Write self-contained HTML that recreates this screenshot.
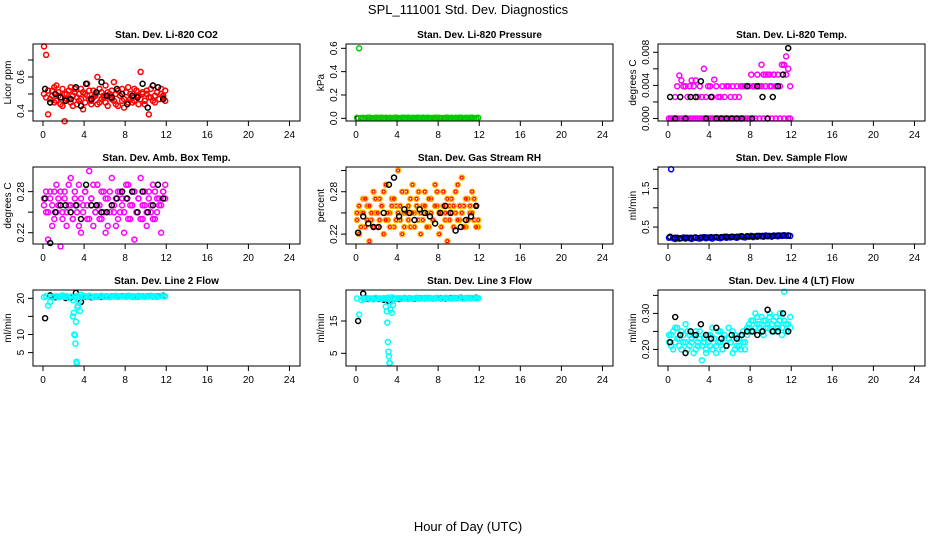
<!DOCTYPE html>
<html><head><meta charset="utf-8"><style>
html,body{margin:0;padding:0;background:#fff;}
svg{display:block;font-family:"Liberation Sans",Arial,sans-serif;}
</style></head><body>
<svg id="chart" width="936" height="540" viewBox="0 0 936 540">
<text x="468" y="14" text-anchor="middle" font-size="13">SPL_111001  Std. Dev. Diagnostics</text>
<text x="468" y="531" text-anchor="middle" font-size="13">Hour of Day (UTC)</text>
</svg>
<script>
// ---- data ----
const hA = [0.1,0.3,0.5,0.7,0.9,1.1,1.3,1.5,1.7,1.9,2.1,2.3,2.5,2.7,2.9,3.1,3.3,3.5,3.7,3.9,4.1,4.3,4.5,4.7,4.9,5.1,5.3,5.5,5.7,5.9,6.1,6.3,6.5,6.7,6.9,7.1,7.3,7.5,7.7,7.9,8.1,8.3,8.5,8.7,8.9,9.1,9.3,9.5,9.7,9.9,10.1,10.3,10.5,10.7,10.9,11.1,11.3,11.5,11.7,11.9];
const hB = [0.2,0.7,1.2,1.7,2.2,2.7,3.2,3.7,4.2,4.7,5.2,5.7,6.2,6.7,7.2,7.7,8.2,8.7,9.2,9.7,10.2,10.7,11.2,11.7];
const hDip = [2.9,3.0,3.05,3.1,3.15,3.2,3.25,3.3,3.35,3.4,3.5,3.6];
const xTicks = [0,4,8,12,16,20,24];

const co2A = [0.78,0.73,0.38,0.47,0.52,0.45,0.55,0.49,0.44,0.53,0.34,0.50,0.47,0.54,0.43,0.51,0.48,0.46,0.53,0.41,0.50,0.56,0.47,0.44,0.52,0.49,0.60,0.45,0.51,0.48,0.55,0.43,0.50,0.47,0.57,0.44,0.52,0.49,0.46,0.42,0.51,0.54,0.47,0.45,0.53,0.49,0.44,0.63,0.50,0.46,0.52,0.38,0.48,0.55,0.45,0.51,0.47,0.53,0.49,0.46];
const co2B = [0.50,0.48,0.52,0.45,0.49,0.54,0.46,0.51,0.48,0.43,0.50,0.47,0.52,0.45,0.49,0.53,0.44,0.50,0.47,0.51,0.45,0.49,0.52,0.46,0.48,0.50,0.44,0.53,0.47,0.49,0.45,0.51,0.48,0.52,0.46,0.50,0.43,0.49,0.53,0.47,0.51,0.45,0.50,0.48,0.46,0.52,0.49,0.47,0.51,0.44,0.50,0.48,0.53,0.46,0.49,0.51,0.47,0.50,0.48,0.52];
const co2K = [0.53,0.45,0.50,0.48,0.46,0.47,0.54,0.43,0.56,0.47,0.51,0.57,0.49,0.48,0.53,0.50,0.44,0.49,0.48,0.56,0.42,0.55,0.54,0.47];

const presG = [0.004,0.60,0.003,0.005,0.002,0.004,0.006,0.003,0.002,0.005,0.004,0.003,0.006,0.002,0.004,0.003,0.005,0.002,0.004,0.006,0.003,0.002,0.005,0.004,0.003,0.006,0.002,0.004,0.003,0.005,0.004,0.002,0.006,0.003,0.005,0.004,0.002,0.003,0.006,0.004,0.005,0.003,0.002,0.004,0.006,0.003,0.005,0.002,0.004,0.003,0.006,0.004,0.002,0.005,0.003,0.004,0.006,0.002,0.003,0.004];
const presK = [0.002,0.001,0.002,0.001,0.002,0.002,0.001,0.002,0.001,0.002,0.002,0.001,0.002,0.001,0.002,0.002,0.001,0.002,0.001,0.002,0.002,0.001,0.002,0.001];

const tempM = [0,0,0,0.0026,0.0039,0.0052,0.0046,0.0039,0.0039,0.0026,0.0039,0.0046,0.0039,0.0046,0.0026,0.0039,0.0026,0.0060,0.0026,0.0039,0.0039,0.0026,0.0047,0.0039,0.0026,0.0026,0.0039,0.0026,0.0039,0.0039,0.0026,0.0039,0.0026,0.0039,0.0026,0.0039,0.0039,0.0039,0.0039,0.0039,0.0053,0.0039,0.0039,0.0039,0.0039,0.0065,0.0053,0.0039,0.0053,0.0053,0.0039,0.0053,0.0039,0.0053,0.0039,0.0065,0.0065,0.0075,0.0060,0.0039];
const tempM2 = [0,0,0,0,0,0,0,0,0,0,0,0,0,0,0,0,0,0,0,0,0,0,0,0,0,0,0,0,0,0,0,0,0,0,0,0,0,0,0,0,0,0.0039,0,0.0053,0,0.0039,0,0.0053,0,0.0039,0,0.0053,0,0.0039,0,0.0065,0,0.0053,0,0];
const tempK = [0.0026,0,0.0026,0,0.0026,0.0026,0.0045,0,0.0026,0,0,0,0,0,0,0.0039,0,0.0039,0.0026,0,0.0026,0.0039,0.0053,0.0085];

const ambA = [0.27,0.25,0.21,0.28,0.26,0.24,0.29,0.27,0.20,0.25,0.28,0.23,0.26,0.30,0.24,0.27,0.25,0.29,0.22,0.26,0.28,0.24,0.31,0.27,0.23,0.25,0.29,0.26,0.24,0.28,0.22,0.27,0.25,0.30,0.26,0.23,0.28,0.25,0.27,0.22,0.29,0.24,0.26,0.28,0.21,0.25,0.27,0.30,0.24,0.26,0.23,0.28,0.25,0.29,0.24,0.27,0.26,0.22,0.28,0.29];
const ambB = [0.26,0.28,0.25,0.27,0.23,0.28,0.25,0.26,0.28,0.24,0.27,0.25,0.29,0.26,0.24,0.28,0.26,0.23,0.27,0.25,0.28,0.26,0.24,0.27,0.29,0.25,0.26,0.24,0.28,0.25,0.27,0.23,0.28,0.26,0.25,0.27,0.24,0.28,0.26,0.25,0.27,0.29,0.24,0.26,0.28,0.25,0.27,0.24,0.26,0.28,0.25,0.27,0.26,0.24,0.28,0.25,0.27,0.26,0.28,0.27];
const ambK = [0.27,0.205,0.25,0.26,0.26,0.25,0.26,0.24,0.29,0.26,0.26,0.25,0.25,0.26,0.27,0.28,0.27,0.28,0.25,0.28,0.25,0.26,0.29,0.27];

const rhO = [0.24,0.22,0.25,0.27,0.23,0.26,0.21,0.24,0.28,0.25,0.23,0.27,0.26,0.22,0.29,0.24,0.25,0.27,0.23,0.26,0.31,0.24,0.22,0.25,0.28,0.26,0.23,0.29,0.25,0.27,0.24,0.22,0.26,0.28,0.25,0.23,0.27,0.24,0.29,0.26,0.22,0.25,0.28,0.24,0.21,0.26,0.27,0.23,0.25,0.29,0.24,0.30,0.26,0.23,0.27,0.25,0.28,0.24,0.26,0.23];
const rhO2 = [0.25,0.26,0.23,0.25,0.27,0.24,0.26,0.25,0.23,0.27,0.25,0.24,0.26,0.28,0.24,0.25,0.23,0.26,0.27,0.24,0.25,0.26,0.28,0.23,0.25,0.24,0.27,0.25,0.23,0.26,0.28,0.25,0.24,0.26,0.23,0.27,0.25,0.24,0.26,0.28,0.25,0.23,0.26,0.25,0.27,0.24,0.25,0.26,0.28,0.24,0.26,0.25,0.23,0.27,0.24,0.26,0.25,0.27,0.23,0.24];
const rhK = [0.222,0.245,0.235,0.23,0.23,0.25,0.29,0.30,0.245,0.255,0.25,0.24,0.255,0.25,0.245,0.235,0.25,0.26,0.25,0.225,0.23,0.24,0.245,0.26];

const flowB = [0.22,2.0,0.21,0.19,0.22,0.20,0.21,0.23,0.20,0.22,0.21,0.19,0.22,0.23,0.21,0.20,0.22,0.24,0.21,0.23,0.22,0.20,0.23,0.24,0.22,0.21,0.23,0.25,0.22,0.24,0.23,0.25,0.24,0.22,0.25,0.26,0.24,0.23,0.26,0.25,0.27,0.24,0.26,0.25,0.27,0.26,0.25,0.28,0.26,0.27,0.25,0.28,0.27,0.26,0.28,0.27,0.29,0.27,0.28,0.27];
const flowK = [0.25,0.22,0.21,0.22,0.22,0.23,0.23,0.23,0.24,0.24,0.24,0.25,0.25,0.25,0.26,0.26,0.26,0.27,0.27,0.27,0.27,0.28,0.28,0.28];

const line2C = [20.3,20.6,18.0,19.0,20.4,20.5,20.6,20.3,20.5,20.8,20.4,20.6,20.2,20.5,19.5,20.3,20.6,20.4,21.0,20.5,20.6,20.4,20.7,20.5,20.3,20.6,20.4,20.5,20.7,20.4,20.6,20.5,20.3,20.6,20.5,20.7,20.4,20.6,20.5,20.6,20.4,20.7,20.5,20.6,20.4,20.5,20.7,20.5,20.6,20.4,20.6,20.5,20.7,20.5,20.6,20.4,20.6,20.7,20.5,20.6];
const line2Dip = [15.0,16.0,10.0,9.8,7.5,13.5,2.5,2.0,17.5,18.0,19.5,16.5];
const line2K = [14.5,20.8,20.3,20.5,20.1,20.2,21.5,19.0,20.4,20.3,20.5,20.4,20.5,20.6,20.5,20.6,20.6,20.5,20.5,20.6,20.6,20.5,20.6,20.7];

const line3C = [22.0,17.0,21.5,22.0,21.8,22.1,21.9,22.0,21.7,22.2,21.9,22.0,21.8,22.1,21.9,22.2,21.9,22.3,22.0,21.8,22.1,22.0,21.9,22.2,22.0,21.8,22.1,21.9,22.0,22.2,21.9,22.0,22.1,21.9,22.2,22.0,22.1,21.9,22.0,22.2,22.1,21.9,22.0,22.2,22.1,22.0,21.9,22.2,22.0,22.1,22.2,22.0,21.9,22.1,22.2,22.0,22.1,22.2,22.0,22.1];
const line3Dip = [19.5,18.0,14.5,8.5,5.5,4.0,2.0,2.0,18.5,21.0,17.5,20.0];
const line3K = [15.0,23.5,21.8,21.9,21.8,21.6,21.2,21.9,21.8,22.1,22.0,21.9,22.0,22.0,22.1,22.0,22.1,22.0,22.1,22.1,22.2,22.1,22.1,22.2];

const line4C = [0.22,0.24,0.20,0.26,0.23,0.21,0.25,0.22,0.27,0.20,0.24,0.22,0.19,0.25,0.21,0.23,0.17,0.22,0.20,0.24,0.21,0.26,0.23,0.19,0.22,0.25,0.20,0.23,0.21,0.26,0.22,0.19,0.24,0.21,0.23,0.20,0.25,0.22,0.24,0.26,0.28,0.25,0.30,0.27,0.26,0.29,0.24,0.28,0.26,0.30,0.27,0.25,0.29,0.26,0.28,0.24,0.36,0.27,0.25,0.29];
const line4C2 = [0.24,0.21,0.25,0.22,0.26,0.23,0.20,0.24,0.22,0.25,0.21,0.23,0.24,0.20,0.22,0.25,0.21,0.23,0.19,0.22,0.24,0.20,0.23,0.21,0.25,0.22,0.20,0.24,0.21,0.23,0.22,0.25,0.20,0.23,0.21,0.24,0.22,0.20,0.26,0.27,0.25,0.28,0.26,0.29,0.27,0.25,0.28,0.26,0.27,0.29,0.25,0.28,0.26,0.27,0.30,0.26,0.28,0.25,0.27,0.26];
const line4K = [0.22,0.29,0.24,0.19,0.25,0.24,0.27,0.24,0.23,0.26,0.23,0.21,0.24,0.23,0.24,0.25,0.25,0.24,0.25,0.31,0.25,0.25,0.30,0.25];

// y tick values and labels per panel
const yTicks1 = [0.4,0.5,0.6,0.7], yLab1 = ["0.4","","0.6",""];
const yTicks2 = [0,0.2,0.4,0.6], yLab2 = ["0.0","0.2","0.4","0.6"];
const yTicks3 = [0,0.002,0.004,0.006,0.008], yLab3 = ["0.000","","0.004","","0.008"];
const yTicks4 = [0.22,0.25,0.28], yLab4 = ["0.22","","0.28"];
const yTicks5 = [0.22,0.25,0.28,0.31], yLab5 = ["0.22","","0.28",""];
const yTicks6 = [0.5,1.0,1.5,2.0], yLab6 = ["0.5","","1.5",""];
const yTicks7 = [5,10,15,20], yLab7 = ["5","10","","20"];
const yTicks8 = [5,15], yLab8 = ["5","15"];
const yTicks9 = [0.20,0.25,0.30,0.35], yLab9 = ["0.20","","0.30",""];

// ---- layout / drawing ----
const NS = "http://www.w3.org/2000/svg";
const svg = document.getElementById('chart');
const X0 = [43,356,668], PXH = 10.27;
const TOP = [44,167,290], BOT = [121,244,366];
function mk(tag, attrs, parent){
  const e = document.createElementNS(NS, tag);
  for (const k in attrs) e.setAttribute(k, attrs[k]);
  (parent||svg).appendChild(e); return e;
}
const panels = [
 {title:"Stan. Dev. Li-820 CO2", yt:"Licor ppm", ylim:[0.341,0.794], ticks:yTicks1, labs:yLab1,
  series:[[hA,co2A,"#ff0000"],[hA,co2B,"#ff0000"],[hB,co2K,"#000"]]},
 {title:"Stan. Dev. Li-820 Pressure", yt:"kPa", ylim:[-0.023,0.637], ticks:yTicks2, labs:yLab2,
  series:[[hB,presK,"#000"],[hA,presG,"#00cc00"]]},
 {title:"Stan. Dev. Li-820 Temp.", yt:"degrees C", ylim:[-0.0003,0.0090], ticks:yTicks3, labs:yLab3,
  series:[[hA,tempM,"#ff00ff"],[hA,tempM2,"#ff00ff"],[hB,tempK,"#000"]]},
 {title:"Stan. Dev. Amb. Box Temp.", yt:"degrees C", ylim:[0.2035,0.316], ticks:yTicks4, labs:yLab4,
  series:[[hA,ambA,"#ff00ff"],[hA,ambB,"#ff00ff"],[hB,ambK,"#000"]]},
 {title:"Stan. Dev. Gas Stream RH", yt:"percent", ylim:[0.206,0.315], ticks:yTicks5, labs:yLab5,
  series:[[hA,rhO,"#ffb000","#ff0000"],[hA,rhO2,"#ffb000","#ff0000"],[hB,rhK,"#000"]]},
 {title:"Stan. Dev. Sample Flow", yt:"ml/min", ylim:[0.06,2.06], ticks:yTicks6, labs:yLab6,
  series:[[hA,flowB,"#0000ff"],[hB,flowK,"#000"]]},
 {title:"Stan. Dev. Line 2 Flow", yt:"ml/min", ylim:[1.3,22.3], ticks:yTicks7, labs:yLab7,
  series:[[hB,line2K,"#000"],[hA,line2C,"#00ffff"],[hDip,line2Dip,"#00ffff"]]},
 {title:"Stan. Dev. Line 3 Flow", yt:"ml/min", ylim:[1.07,24.6], ticks:yTicks8, labs:yLab8,
  series:[[hB,line3K,"#000"],[hA,line3C,"#00ffff"],[hDip,line3Dip,"#00ffff"]]},
 {title:"Stan. Dev. Line 4 (LT) Flow", yt:"ml/min", ylim:[0.154,0.365], ticks:yTicks9, labs:yLab9,
  series:[[hA,line4C,"#00ffff"],[hA,line4C2,"#00ffff"],[hB,line4K,"#000"]]}
];
panels.forEach((p,i)=>{
  const col = i%3, row = Math.floor(i/3);
  const x0 = X0[col], top = TOP[row], bot = BOT[row];
  const left = x0-10, right = x0+257;
  const xs = h => x0 + h*PXH;
  const ys = v => bot - (v-p.ylim[0])/(p.ylim[1]-p.ylim[0])*(bot-top);
  const g = mk('g',{});
  
  
  const t = mk('text',{x:(left+right)/2, y:top-6, 'text-anchor':'middle','font-size':'10','font-weight':'bold'}, g);
  t.textContent = p.title;
  
  
  const pg = mk('g',{}, g);
  
  
  p.series.forEach(s=>{
    const hs = s[0], vs = s[1];
    vs.forEach((v,k)=>{
      const cx = xs(hs[k]).toFixed(1), cy = ys(v).toFixed(1);
      const c = mk('circle',{cx:cx, cy:cy, r:2.5, fill:'none', stroke:s[2], 'stroke-width':1.5}, pg);
      
      
      if (s[3]) {
        const d = mk('circle',{cx:cx, cy:cy, r:1.4, fill:'none', stroke:s[3], 'stroke-width':1}, pg);
        
        
      }
    });
  });
  const box = mk('rect',{x:left, y:top, width:right-left, height:bot-top, fill:'none', stroke:'#000','stroke-width':1}, g);
  
  
  const xa = mk('g',{}, g);
  
  
  xTicks.forEach(h=>{
    mk('line',{x1:xs(h), x2:xs(h), y1:bot, y2:bot+5, stroke:'#000'}, xa);
    const tl = mk('text',{x:xs(h), y:bot+17, 'text-anchor':'middle','font-size':'10'}, xa);
    tl.textContent = h;
    
    
  });
  const ya = mk('g',{}, g);
  
  
  p.ticks.forEach((v,k)=>{
    const y = ys(v);
    mk('line',{x1:left, x2:left-5, y1:y, y2:y, stroke:'#000'}, ya);
    if (p.labs[k]) {
      const tl = mk('text',{x:0,y:0,'text-anchor':'middle','font-size':'10', transform:`translate(${left-9},${y}) rotate(-90)`}, ya);
      tl.textContent = p.labs[k];
      
      
    }
  });
  const yt = mk('text',{x:0,y:0,'text-anchor':'middle','font-size':'10', transform:`translate(${left-22},${(top+bot)/2}) rotate(-90)`}, g);
  yt.textContent = p.yt;
  
  
});
</script>
</body></html>
